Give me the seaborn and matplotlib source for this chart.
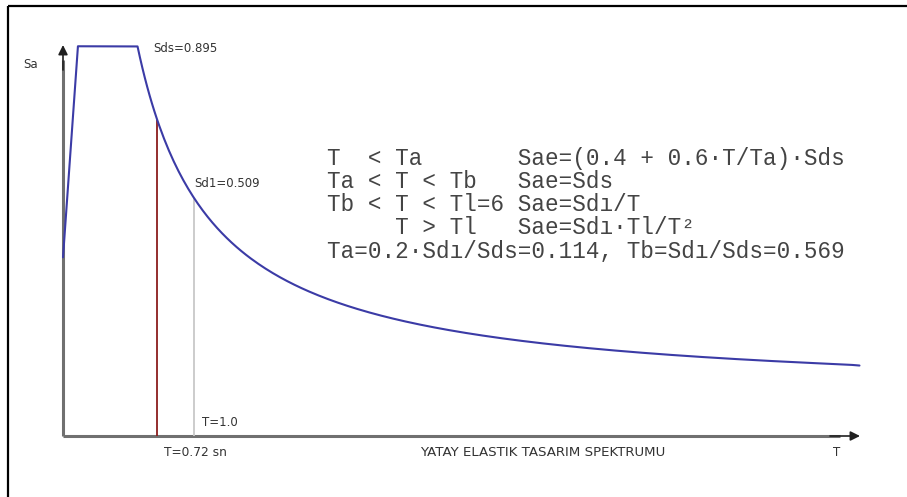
import numpy as np
import pandas as pd
import matplotlib
matplotlib.use("Agg")
import matplotlib.pyplot as plt
import seaborn as sns

# ---- values ----
Sds = 0.895
Sd1 = 0.509
Ta = 0.114
Tb = 0.569
TL = 6.0
T_end = 6.08
T_marks = [0.72, 1.0]
mark_labels = ["T=0.72 sn", "T=1.0"]
formula_lines = [
    "T  < Ta       Sae=(0.4 + 0.6·T/Ta)·Sds",
    "Ta < T < Tb   Sae=Sds",
    "Tb < T < Tl=6 Sae=Sdı/T",
    "     T > Tl   Sae=Sdı·Tl/T²",
    "Ta=0.2·Sdı/Sds=0.114, Tb=Sdı/Sds=0.569",
]
title = "YATAY ELASTIK TASARIM SPEKTRUMU"

# spectrum as stated by the chart's own formulas
def sae(t):
    t = np.asarray(t, dtype=float)
    return np.where(t < Ta, (0.4 + 0.6 * t / Ta) * Sds,
           np.where(t < Tb, Sds,
           np.where(t <= TL, Sd1 / np.maximum(t, 1e-9), Sd1 * TL / np.maximum(t, 1e-9) ** 2)))

T_curve = np.concatenate([[0.0, Ta, Tb], np.linspace(Tb, T_end, 300)[1:]])
df = pd.DataFrame({"T": T_curve, "Sa": sae(T_curve)})

sns.set_theme(style="white")
plt.rcParams["font.family"] = ["DejaVu Sans"]

W, H = 907, 497
fig = plt.figure(figsize=(W / 100, H / 100), dpi=100)
ax = fig.add_axes([0, 0, 1, 1])

# pixel mapping (layout)
x0_px, sx = 63.0, 131.0
y0_px, sy = 398.0, 393.0
ax.set_xlim(-x0_px / sx, (W - x0_px) / sx)
ax.set_ylim((y0_px - H) / sy, y0_px / sy)

base = (y0_px - 436) / sy  # level of drawn T axis

def px(x, y):
    return (x / W, 1 - y / H)

# frame (top and left border)
ax.plot([8 / W, 1], [1 - 6 / H, 1 - 6 / H], transform=ax.transAxes, color="black", lw=1.6, solid_capstyle="butt")
ax.plot([8 / W, 8 / W], [0, 1 - 6 / H], transform=ax.transAxes, color="black", lw=1.6, solid_capstyle="butt")

# axes with arrows
axis_col = "#707070"
ax.plot([0, 0], [base, (y0_px - 60) / sy], color=axis_col, lw=2.2, solid_capstyle="butt", zorder=2)
ax.annotate("", xy=(0, (y0_px - 45) / sy), xytext=(0, (y0_px - 70) / sy),
            arrowprops=dict(arrowstyle="-|>", color="#202020", lw=1.2, mutation_scale=14, shrinkA=0, shrinkB=0))
ax.plot([0, (840 - x0_px) / sx], [base, base], color=axis_col, lw=2.2, solid_capstyle="butt", zorder=2)
ax.annotate("", xy=((860 - x0_px) / sx, base), xytext=((830 - x0_px) / sx, base),
            arrowprops=dict(arrowstyle="-|>", color="#202020", lw=1.2, mutation_scale=14, shrinkA=0, shrinkB=0))

# marker lines
ax.vlines([T_marks[0]], base, sae(T_marks[0]), color="#8b1c1c", lw=1.3, zorder=3)
ax.vlines([T_marks[1]], base, sae(T_marks[1]), color="#c8c8c8", lw=1.3, zorder=3)

# spectrum curve
sns.lineplot(data=df, x="T", y="Sa", ax=ax, color="#3b3ba6", lw=1.5, sort=False, zorder=4)
ax.set_xlabel("")
ax.set_ylabel("")
ax.axis("off")

lab_col = "#333333"
fs = 8.5
ax.text(*px(23, 64), "Sa", transform=ax.transAxes, ha="left", va="center", fontsize=fs, color=lab_col)
ax.text(*px(153, 48), f"Sds={Sds:.3f}", transform=ax.transAxes, ha="left", va="center", fontsize=fs, color=lab_col)
ax.text(*px(194, 183), f"Sd1={Sd1:.3f}", transform=ax.transAxes, ha="left", va="center", fontsize=fs, color=lab_col)
ax.text(*px(202, 423), mark_labels[1], transform=ax.transAxes, ha="left", va="center", fontsize=fs, color=lab_col)
ax.text(*px(164, 453), mark_labels[0], transform=ax.transAxes, ha="left", va="center", fontsize=fs + 0.3, color=lab_col)
ax.text(*px(420, 453), title, transform=ax.transAxes, ha="left", va="center", fontsize=9.6, color=lab_col)
ax.text(*px(837, 453), "T", transform=ax.transAxes, ha="center", va="center", fontsize=fs, color=lab_col)

# formula block
for i, line in enumerate(formula_lines):
    ax.text(*px(327, 159 + 23 * i), line, transform=ax.transAxes, ha="left", va="center",
            fontsize=16.3, family=["Liberation Mono", "DejaVu Sans Mono"], color="#444444")

fig.savefig("out.png", dpi=100)
